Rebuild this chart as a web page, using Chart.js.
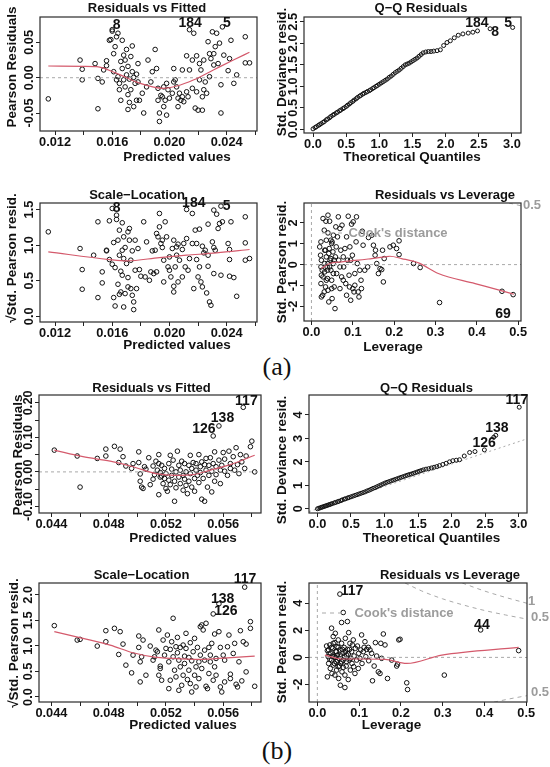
<!DOCTYPE html>
<html>
<head>
<meta charset="utf-8">
<title>Diagnostic plots</title>
<script src="https://cdn.jsdelivr.net/npm/chart.js@4.4.1/dist/chart.umd.min.js"></script>
<style>
  html, body { margin: 0; padding: 0; background: #fff; }
  #page { position: relative; width: 550px; height: 767px; overflow: hidden; background: #fff; }
  #page canvas { position: absolute; left: 0; top: 0; }
  .tag { position: absolute; font-family: "Liberation Serif", "DejaVu Serif", serif; font-size: 26px; color: #111;
         transform: translate(-50%, -50%); white-space: nowrap; }
</style>
</head>
<body>
<div id="page">
  <div class="tag" style="left:277px;top:367px">(a)</div>
  <div class="tag" style="left:277px;top:751px">(b)</div>
</div>
<script>
// ---------- tick values and labels ----------
const A_FIT_TICKS = [0.012, 0.014, 0.016, 0.018, 0.020, 0.022, 0.024, 0.026];
const A_FIT_LABELS = ["0.012", "", "0.016", "", "0.020", "", "0.024", ""];
const B_FIT_TICKS = [0.044, 0.046, 0.048, 0.050, 0.052, 0.054, 0.056, 0.058];
const B_FIT_LABELS = ["0.044", "", "0.048", "", "0.052", "", "0.056", ""];
const QQ_TICKS = [0, 0.5, 1, 1.5, 2, 2.5, 3];
const QQ_LABELS = ["0.0", "0.5", "1.0", "1.5", "2.0", "2.5", "3.0"];
const LEV_TICKS = [0, 0.1, 0.2, 0.3, 0.4, 0.5];
const LEV_LABELS = ["0.0", "0.1", "0.2", "0.3", "0.4", "0.5"];

const A_RES_TICKS = [-0.05, 0, 0.05];
const A_RES_LABELS = ["-0.05", "0.00", "0.05"];
const A_QQ_YTICKS = [0, 0.5, 1, 1.5, 2, 2.5];
const A_QQ_YLABELS = ["0.0", "0.5", "1.0", "1.5", "2.0", "2.5"];
const A_SL_YTICKS = [0, 0.5, 1, 1.5];
const A_SL_YLABELS = ["0.0", "0.5", "1.0", "1.5"];
const A_LEV_YTICKS = [-2, -1, 0, 1, 2];
const A_LEV_YLABELS = ["-2", "-1", "0", "1", "2"];

const B_RES_TICKS = [-0.10, -0.05, 0, 0.05, 0.10, 0.15, 0.20];
const B_RES_LABELS = ["-0.10", "", "0.00", "", "0.10", "", "0.20"];
const B_QQ_YTICKS = [0, 1, 2, 3, 4];
const B_QQ_YLABELS = ["0", "1", "2", "3", "4"];
const B_SL_YTICKS = [0, 0.5, 1, 1.5, 2];
const B_SL_YLABELS = ["0.0", "0.5", "1.0", "1.5", "2.0"];
const B_LEV_YTICKS = [-2, 0, 2, 4];
const B_LEV_YLABELS = ["-2", "0", "2", "4"];

// ---------- (a) series ----------
const A_RVF_PTS = [
  [0.01153,-0.030],[0.01375,0.025],[0.0139,0.012],[0.0139,-0.003],[0.0148,0.020],[0.0150,-0.001],[0.0150,-0.044],
  [0.0153,-0.006],[0.0154,0.011],[0.0156,0.017],[0.0156,0.024],[0.0158,0.053],[0.0159,0.054],[0.0160,0.066],
  [0.0160,0.068],[0.0161,0.034],[0.0161,0.0085],[0.0162,0.044],[0.0163,-0.003],[0.0163,0.058],[0.0164,0.063],
  [0.0164,0.0014],[0.0165,-0.008],[0.0165,-0.017],[0.0166,-0.032],[0.0166,0.023],[0.0167,0.013],[0.0167,0.053],
  [0.0168,0.032],[0.0168,-0.003],[0.0169,-0.013],[0.0169,0.025],[0.0170,0.040],[0.0170,0.004],[0.0171,-0.024],
  [0.0171,-0.045],[0.0171,0.016],[0.0172,-0.002],[0.0172,-0.035],[0.0173,0.030],[0.0173,-0.017],[0.0174,0.0085],
  [0.0174,0.045],[0.0175,-0.041],[0.0175,0.0005],[0.0176,-0.008],[0.0177,0.005],[0.0177,-0.032],[0.0178,0.020],
  [0.0178,-0.006],[0.0179,-0.032],[0.0181,-0.022],[0.0182,-0.050],[0.0184,-0.013],[0.0185,0.025],[0.0187,-0.006],
  [0.0188,0.0085],[0.0190,0.040],[0.0191,0.013],[0.0192,-0.015],[0.0192,-0.032],[0.0193,-0.050],[0.0193,-0.062],
  [0.0194,-0.025],[0.0195,-0.027],[0.0196,-0.013],[0.0196,-0.041],[0.0197,-0.032],[0.0198,-0.053],[0.0198,-0.008],
  [0.0199,-0.017],[0.0200,-0.029],[0.0202,-0.022],[0.0203,0.013],[0.0203,-0.006],[0.0204,-0.003],[0.0205,-0.013],
  [0.0206,-0.041],[0.0206,-0.029],[0.0207,-0.022],[0.0208,-0.032],[0.0209,0.011],[0.0209,-0.027],[0.0210,-0.034],
  [0.0212,0.031],[0.0212,-0.020],[0.0213,-0.027],[0.0214,0.068],[0.0214,0.011],[0.0216,-0.015],[0.0216,0.025],
  [0.0217,0.063],[0.0218,-0.043],[0.0219,0.031],[0.0219,-0.020],[0.0220,-0.046],[0.0221,0.020],[0.0221,-0.003],
  [0.0222,0.011],[0.0223,-0.046],[0.0223,-0.027],[0.0224,-0.017],[0.0224,0.025],[0.0225,-0.006],[0.0226,-0.022],
  [0.0227,0.051],[0.0228,0.034],[0.0228,0.0014],[0.0229,0.027],[0.0230,0.065],[0.0231,0.018],[0.0231,0.034],
  [0.0232,0.044],[0.0233,0.063],[0.0234,0.020],[0.0235,0.049],[0.0236,-0.050],[0.0236,-0.010],[0.0237,0.072],
  [0.0238,0.032],[0.0241,0.010],[0.0242,0.027],[0.0243,0.053],[0.0245,-0.008],[0.0247,0.004],[0.0253,0.058],
  [0.0253,0.021],[0.0256,0.021]
];
const A_RVF_FIT = [[0.01153,0.0166],[0.01398,0.0161],[0.01492,0.0156],[0.01631,0.0062],[0.01794,-0.0079],
  [0.01957,-0.0150],[0.02051,-0.0118],[0.02167,-0.0033],[0.02307,0.0109],[0.02447,0.0251],[0.02559,0.0360]];

const A_QQ_PTS = [
  [0.00,0.01],[0.03,0.04],[0.05,0.06],[0.08,0.09],[0.10,0.11],[0.12,0.13],[0.15,0.16],[0.17,0.18],[0.20,0.22],
  [0.22,0.24],[0.25,0.27],[0.27,0.30],[0.30,0.33],[0.32,0.35],[0.35,0.38],[0.37,0.40],[0.40,0.43],[0.42,0.45],
  [0.45,0.48],[0.47,0.50],[0.50,0.53],[0.52,0.56],[0.55,0.59],[0.57,0.62],[0.60,0.65],[0.62,0.68],[0.65,0.71],
  [0.67,0.74],[0.70,0.77],[0.72,0.79],[0.75,0.82],[0.77,0.84],[0.80,0.86],[0.82,0.88],[0.85,0.90],[0.87,0.92],
  [0.90,0.95],[0.92,0.97],[0.95,1.00],[0.97,1.02],[1.00,1.05],[1.03,1.08],[1.06,1.11],[1.09,1.14],[1.12,1.17],
  [1.15,1.21],[1.18,1.24],[1.21,1.28],[1.24,1.32],[1.27,1.35],[1.30,1.38],[1.33,1.42],[1.36,1.46],[1.39,1.50],
  [1.42,1.52],[1.45,1.54],[1.48,1.57],[1.51,1.60],[1.54,1.63],[1.57,1.66],[1.60,1.70],[1.63,1.74],[1.66,1.78],
  [1.70,1.80],[1.74,1.81],[1.78,1.81],[1.82,1.82],[1.87,1.83],[1.92,1.85],[1.97,1.95],[2.02,2.02],[2.07,2.06],
  [2.13,2.13],[2.19,2.19],[2.26,2.22],[2.34,2.24],[2.41,2.26],[2.48,2.29],[2.67,2.34],[3.01,2.37]
];

const A_SL_PTS = [
  [0.01153,1.186],[0.01375,0.952],[0.0139,0.656],[0.0139,0.380],[0.0147,0.858],[0.0150,1.327],[0.0150,0.263],
  [0.0153,0.624],[0.0153,0.469],[0.0156,0.928],[0.0156,0.919],[0.0158,0.797],[0.0158,1.341],[0.0160,1.514],
  [0.0160,0.731],[0.0161,1.036],[0.0161,0.263],[0.0162,0.684],[0.0162,0.145],[0.0163,1.420],[0.0163,1.360],
  [0.0164,1.069],[0.0164,0.450],[0.0165,0.858],[0.0165,1.210],[0.0165,0.309],[0.0166,0.342],[0.0166,0.633],
  [0.0167,0.928],[0.0167,1.313],[0.0167,0.577],[0.0168,0.131],[0.0168,1.116],[0.0168,0.811],[0.0169,0.319],
  [0.0169,0.966],[0.0170,0.741],[0.0171,0.413],[0.0171,1.186],[0.0171,0.544],[0.0172,1.069],[0.0172,1.233],
  [0.0173,0.788],[0.0173,0.389],[0.0174,0.919],[0.0174,0.295],[0.0175,0.202],[0.0175,0.094],[0.0176,0.647],
  [0.0176,1.069],[0.0177,0.389],[0.0178,0.952],[0.0179,0.656],[0.0180,0.563],[0.0182,1.327],[0.0183,0.553],
  [0.0184,1.045],[0.0186,0.506],[0.0187,0.624],[0.0188,0.919],[0.0189,0.600],[0.0190,0.928],[0.0191,1.163],
  [0.0191,0.624],[0.0192,1.116],[0.0193,1.444],[0.0193,1.256],[0.0194,1.022],[0.0195,0.966],[0.0195,1.069],
  [0.0196,0.483],[0.0196,0.788],[0.0197,1.327],[0.0198,1.116],[0.0199,0.694],[0.0200,0.647],[0.0200,0.834],
  [0.0201,0.553],[0.0202,0.952],[0.0203,0.422],[0.0203,0.342],[0.0203,1.069],[0.0204,0.694],[0.0205,0.858],
  [0.0205,0.975],[0.0206,0.483],[0.0206,1.013],[0.0207,0.788],[0.0209,0.553],[0.0209,0.938],[0.0210,1.022],
  [0.0211,0.694],[0.0212,1.092],[0.0212,1.500],[0.0213,0.647],[0.0214,0.811],[0.0216,1.444],[0.0216,1.022],
  [0.0217,0.389],[0.0218,1.210],[0.0219,0.797],[0.0219,1.022],[0.0220,0.553],[0.0221,0.694],[0.0221,1.224],
  [0.0222,0.483],[0.0223,0.413],[0.0223,0.984],[0.0224,0.891],[0.0225,0.928],[0.0226,0.328],[0.0227,0.703],
  [0.0227,0.858],[0.0227,1.294],[0.0228,0.202],[0.0229,0.155],[0.0230,1.045],[0.0231,1.491],[0.0231,0.600],
  [0.0231,0.966],[0.0232,0.928],[0.0233,1.434],[0.0234,1.233],[0.0235,1.303],[0.0236,0.577],[0.0236,1.547],
  [0.0237,1.327],[0.0241,1.022],[0.0242,0.797],[0.0242,0.938],[0.0243,1.327],[0.0242,0.563],[0.0245,0.544],
  [0.0247,0.281],[0.0253,1.397],[0.0253,1.031],[0.0253,0.788],[0.0256,0.811]
];
const A_SL_FIT = [[0.01153,0.905],[0.0158,0.797],[0.0170,0.778],[0.0193,0.825],[0.0212,0.858],[0.0233,0.891],[0.0256,0.938]];

const A_LEV_PTS = [
  [0.020,0.85],[0.023,1.09],[0.022,0.45],[0.024,0.21],[0.023,-0.11],[0.024,-0.51],[0.023,-0.91],[0.024,-1.55],
  [0.027,-1.47],[0.028,2.21],[0.031,1.65],[0.032,0.69],[0.032,-0.35],[0.034,-1.07],[0.035,2.08],[0.036,1.17],
  [0.036,0.37],[0.038,-0.11],[0.039,-0.67],[0.040,2.37],[0.040,1.52],[0.040,-1.23],[0.042,-1.79],[0.043,0.77],
  [0.044,2.08],[0.045,0.21],[0.047,-0.27],[0.047,1.17],[0.049,1.01],[0.049,-0.75],[0.050,-1.63],[0.052,0.61],
  [0.053,1.41],[0.053,0.05],[0.055,-1.07],[0.057,-2.11],[0.058,0.37],[0.060,0.85],[0.061,-0.43],[0.063,1.33],
  [0.065,2.29],[0.066,0.21],[0.069,1.73],[0.069,-1.15],[0.071,0.69],[0.073,-0.59],[0.074,1.89],[0.077,0.37],
  [0.078,-0.11],[0.081,0.77],[0.083,-0.91],[0.085,-1.47],[0.087,0.21],[0.089,2.32],[0.091,-0.51],[0.092,-1.07],
  [0.093,0.85],[0.095,-1.71],[0.097,1.94],[0.099,0.45],[0.100,-1.15],[0.101,2.05],[0.103,-1.31],[0.105,-0.43],
  [0.108,1.09],[0.109,2.29],[0.111,0.05],[0.113,-1.31],[0.115,-1.55],[0.117,-0.27],[0.120,-0.75],[0.121,-1.15],
  [0.123,1.60],[0.125,0.93],[0.129,-0.27],[0.136,-0.11],[0.138,1.30],[0.146,1.41],[0.150,0.93],[0.154,0.45],
  [0.155,0.69],[0.158,0.05],[0.162,-0.43],[0.166,-0.19],[0.170,-0.24],[0.172,0.69],[0.174,-0.83],[0.176,0.29],
  [0.190,0.85],[0.198,0.93],[0.206,0.77],[0.212,1.14],[0.212,0.48],[0.247,0.05],[0.263,-0.14],[0.310,-1.82],
  [0.461,-1.28],[0.488,-1.44],
  [0.028,-0.59],[0.032,0.05],[0.036,-0.75],[0.039,-0.27],[0.042,0.53],[0.044,-0.11],[0.047,0.29],[0.049,-1.15],
  [0.050,1.09],[0.053,-0.43],[0.055,0.21],[0.031,-1.31],[0.034,0.69],[0.026,-0.27],[0.040,0.05],[0.059,1.81],
  [0.069,-0.11],[0.077,-0.75],[0.085,1.33],[0.095,0.21],[0.105,-0.99]
];
const A_LEV_FIT = [[0.024,-0.19],[0.044,0.05],[0.073,0.13],[0.113,0.21],[0.146,0.29],[0.178,0.37],[0.190,0.40],
  [0.218,0.29],[0.259,0.08],[0.307,-0.43],[0.396,-0.91],[0.461,-1.26],[0.490,-1.42]];
const A_COOK_05 = [[0.478,2.954],[0.507,2.82]];

// ---------- (b) series ----------
const B_RVF_PTS = [
  [0.0442,0.063],[0.0458,0.046],[0.0460,-0.044],[0.0472,0.039],[0.0478,0.046],[0.0478,0.066],[0.0484,0.074],
  [0.0487,0.027],[0.0488,0.066],[0.0490,0.044],[0.0492,0.017],[0.0496,0.010],[0.0497,0.024],[0.0501,0.058],
  [0.0501,0.027],[0.0502,-0.006],[0.0502,-0.027],[0.0503,-0.044],[0.0504,-0.048],[0.0505,0.015],[0.0506,0.008],
  [0.0508,0.041],[0.0509,-0.037],[0.0511,-0.021],[0.0511,0.017],[0.0512,-0.008],[0.0513,0.031],[0.0514,0.005],
  [0.0515,0.050],[0.0515,-0.066],[0.0515,0.024],[0.0516,-0.015],[0.0516,-0.002],[0.0517,0.019],[0.0517,-0.012],
  [0.0518,-0.034],[0.0519,0.010],[0.0519,-0.019],[0.0520,-0.048],[0.0520,-0.005],[0.0521,-0.056],[0.0522,0.024],
  [0.0522,-0.024],[0.0523,0.048],[0.0523,-0.037],[0.0524,0.008],[0.0524,-0.010],[0.0525,0.034],[0.0526,-0.085],
  [0.0526,-0.027],[0.0527,0.000],[0.0527,-0.046],[0.0528,0.060],[0.0529,0.019],[0.0529,-0.015],[0.0530,-0.034],
  [0.0530,0.005],[0.0531,0.031],[0.0532,-0.053],[0.0532,-0.010],[0.0533,-0.021],[0.0533,0.024],[0.0534,-0.039],
  [0.0534,0.000],[0.0535,-0.063],[0.0536,0.019],[0.0536,-0.027],[0.0537,0.048],[0.0537,-0.005],[0.0538,0.010],
  [0.0538,-0.044],[0.0539,0.027],[0.0540,-0.019],[0.0540,-0.056],[0.0541,0.005],[0.0541,0.024],[0.0542,-0.010],
  [0.0543,0.050],[0.0543,-0.031],[0.0544,0.015],[0.0544,-0.002],[0.0545,0.029],[0.0545,-0.079],[0.0546,-0.019],
  [0.0547,0.021],[0.0547,-0.085],[0.0548,0.005],[0.0548,0.039],[0.0549,-0.044],[0.0550,0.019],[0.0550,-0.010],
  [0.0551,0.041],[0.0552,0.002],[0.0552,-0.058],[0.0553,0.024],[0.0553,0.104],[0.0554,-0.027],[0.0554,0.058],
  [0.0555,0.015],[0.0555,-0.008],[0.0557,0.034],[0.0557,0.133],[0.0558,0.005],[0.0558,-0.034],[0.0559,0.019],
  [0.0560,0.056],[0.0561,0.002],[0.0561,0.037],[0.0563,-0.010],[0.0564,0.060],[0.0565,0.024],[0.0565,0.010],
  [0.0567,0.044],[0.0568,0.005],[0.0569,0.070],[0.0570,0.021],[0.0571,-0.005],[0.0572,0.050],[0.0573,0.029],
  [0.0574,0.187],[0.0575,0.010],[0.0576,0.046],[0.0579,0.073],[0.0580,0.089],[0.0582,0.000]
];
const B_RVF_FIT = [[0.0442,0.063],[0.0462,0.044],[0.0481,0.031],[0.0497,0.015],[0.0513,-0.005],[0.0527,-0.010],
  [0.0539,-0.008],[0.0551,0.005],[0.0565,0.021],[0.0582,0.048]];

const B_QQ_PTS = [
  [0.00,0.00],[0.02,0.02],[0.04,0.04],[0.06,0.06],[0.08,0.08],[0.10,0.10],[0.12,0.12],[0.14,0.14],[0.16,0.16],
  [0.18,0.18],[0.20,0.20],[0.22,0.22],[0.25,0.25],[0.27,0.27],[0.30,0.30],[0.32,0.32],[0.35,0.35],[0.37,0.38],
  [0.40,0.41],[0.42,0.43],[0.45,0.46],[0.47,0.48],[0.50,0.51],[0.53,0.54],[0.56,0.57],[0.59,0.60],[0.62,0.63],
  [0.65,0.66],[0.68,0.69],[0.71,0.72],[0.74,0.76],[0.77,0.79],[0.80,0.83],[0.83,0.87],[0.86,0.90],[0.89,0.94],
  [0.92,0.98],[0.95,1.02],[0.98,1.06],[1.01,1.10],[1.04,1.13],[1.07,1.16],[1.10,1.19],[1.13,1.22],[1.16,1.25],
  [1.19,1.28],[1.22,1.31],[1.25,1.34],[1.28,1.37],[1.31,1.40],[1.34,1.43],[1.37,1.46],[1.40,1.48],[1.43,1.51],
  [1.46,1.54],[1.49,1.57],[1.52,1.60],[1.55,1.63],[1.58,1.66],[1.62,1.69],[1.66,1.71],[1.70,1.74],[1.74,1.77],
  [1.78,1.80],[1.82,1.84],[1.87,1.89],[1.92,1.94],[1.97,2.00],[2.02,2.05],[2.07,2.07],[2.12,2.09],[2.19,2.25],
  [2.27,2.40],[2.35,2.44],[2.49,2.51],[2.63,3.05],[2.66,3.13],[3.01,4.33]
];
const B_QQ_LINE = [[-0.126,-0.12],[3.126,2.98]];

const B_SL_PTS = [
  [0.0442,1.396],[0.0458,1.114],[0.0460,1.127],[0.0472,0.996],[0.0478,1.081],[0.0478,1.297],[0.0484,1.343],
  [0.0487,0.832],[0.0488,1.278],[0.0490,1.035],[0.0492,0.623],[0.0496,0.472],[0.0497,0.819],[0.0501,1.193],
  [0.0501,0.970],[0.0502,0.295],[0.0502,0.688],[0.0503,0.786],[0.0504,1.114],[0.0506,0.426],[0.0509,0.996],
  [0.0511,0.721],[0.0512,0.786],[0.0513,0.917],[0.0514,0.885],[0.0515,1.311],[0.0515,0.426],[0.0516,0.603],
  [0.0516,0.557],[0.0517,0.328],[0.0518,1.114],[0.0519,0.819],[0.0520,0.950],[0.0521,1.212],[0.0522,0.164],
  [0.0522,0.688],[0.0523,0.931],[0.0523,0.328],[0.0524,1.081],[0.0525,0.786],[0.0525,1.540],[0.0526,0.524],
  [0.0527,0.983],[0.0527,0.393],[0.0528,0.865],[0.0528,1.166],[0.0529,0.721],[0.0529,0.131],[0.0530,0.970],
  [0.0530,0.590],[0.0531,0.229],[0.0532,1.016],[0.0532,0.426],[0.0533,0.799],[0.0533,0.655],[0.0534,0.950],
  [0.0534,1.245],[0.0535,0.341],[0.0536,0.773],[0.0536,0.524],[0.0537,1.062],[0.0537,0.262],[0.0538,0.708],
  [0.0538,0.098],[0.0539,0.885],[0.0540,0.426],[0.0540,1.147],[0.0541,0.590],[0.0541,0.197],[0.0542,0.970],
  [0.0543,0.688],[0.0543,0.360],[0.0544,0.819],[0.0544,1.376],[0.0545,1.409],[0.0545,0.557],[0.0546,1.311],
  [0.0547,0.917],[0.0547,0.721],[0.0548,1.442],[0.0548,0.210],[0.0549,0.164],[0.0550,0.970],[0.0550,0.459],
  [0.0551,0.819],[0.0551,0.688],[0.0552,1.049],[0.0553,0.328],[0.0553,1.625],[0.0554,1.232],[0.0554,0.590],
  [0.0555,0.754],[0.0555,0.426],[0.0557,1.278],[0.0557,1.822],[0.0558,0.970],[0.0558,0.197],[0.0559,0.098],
  [0.0560,0.819],[0.0561,0.295],[0.0561,0.721],[0.0563,0.983],[0.0564,1.212],[0.0565,0.446],[0.0565,0.360],
  [0.0567,0.852],[0.0568,1.049],[0.0569,0.249],[0.0570,0.197],[0.0571,0.688],[0.0572,1.297],[0.0573,0.315],
  [0.0574,1.081],[0.0575,2.149],[0.0576,1.035],[0.0576,0.491],[0.0579,1.474],[0.0579,1.343],[0.0582,0.210]
];
const B_SL_FIT = [[0.0442,1.278],[0.0462,1.147],[0.0481,1.016],[0.0497,0.865],[0.0511,0.786],[0.0525,0.754],
  [0.0544,0.734],[0.0563,0.767],[0.0582,0.800]];

const B_LEV_PTS = [
  [0.022,0.84],[0.024,-1.44],[0.026,0.05],[0.027,0.55],[0.027,-0.45],[0.030,0.92],[0.031,-0.82],[0.032,0.30],
  [0.034,2.16],[0.034,-0.20],[0.035,-1.19],[0.037,0.67],[0.038,1.54],[0.038,-0.57],[0.040,0.05],[0.042,1.09],
  [0.042,-1.31],[0.043,1.78],[0.044,0.42],[0.045,-0.32],[0.046,-0.94],[0.047,0.79],[0.048,0.17],[0.050,1.29],
  [0.050,-0.69],[0.051,-1.56],[0.052,-0.07],[0.054,0.55],[0.054,4.68],[0.055,-2.06],[0.056,-0.45],[0.058,2.58],
  [0.058,1.04],[0.059,-1.07],[0.061,0.30],[0.062,3.32],[0.062,-0.20],[0.064,0.74],[0.066,-1.31],[0.066,-2.23],
  [0.067,1.41],[0.069,-0.64],[0.070,0.17],[0.072,2.65],[0.072,0.59],[0.074,-1.64],[0.075,1.83],[0.076,-0.20],
  [0.078,1.04],[0.079,-0.94],[0.082,0.42],[0.083,-0.45],[0.086,1.29],[0.088,0.10],[0.090,-1.19],[0.091,0.67],
  [0.094,-0.20],[0.096,0.84],[0.098,-0.82],[0.099,0.30],[0.102,-0.07],[0.104,0.55],[0.106,1.66],[0.107,-0.45],
  [0.110,0.42],[0.112,0.74],[0.114,1.16],[0.116,0.05],[0.118,0.59],[0.122,0.74],[0.123,-0.25],[0.126,0.55],
  [0.130,0.30],[0.132,-1.73],[0.136,-0.64],[0.139,1.09],[0.142,0.10],[0.146,-1.07],[0.150,-1.19],[0.152,1.04],
  [0.154,-0.07],[0.158,1.73],[0.162,0.92],[0.168,-1.56],[0.178,-0.20],[0.190,-0.64],[0.192,-0.50],[0.195,1.29],
  [0.198,1.34],[0.214,-1.88],[0.216,-2.38],[0.304,-1.31],[0.391,2.03],[0.482,0.50],
  [0.024,0.50],[0.028,0.25],[0.030,-0.15],[0.034,0.74],[0.036,0.10],[0.038,1.04],[0.041,-0.45],[0.043,0.00],
  [0.046,0.42],[0.048,-0.20],[0.050,0.74],[0.053,-0.64],[0.055,0.17],[0.058,-0.32],[0.060,0.59],[0.062,-0.74],
  [0.065,0.05],[0.067,0.42],[0.070,-0.32],[0.074,0.25],[0.077,0.59],[0.080,-0.07],[0.084,0.92],[0.087,-0.69]
];
const B_LEV_FIT = [[0.018,0.17],[0.058,-0.12],[0.106,-0.12],[0.162,-0.15],[0.214,-0.45],[0.298,0.17],[0.482,0.74]];
const B_COOK_05_UP = [[0.21,5.50],[0.25,4.91],[0.30,4.33],[0.35,3.87],[0.40,3.47],[0.45,3.14],[0.502,2.83]];
const B_COOK_1 = [[0.347,5.50],[0.40,4.91],[0.45,4.44],[0.502,4.00]];
const B_COOK_05_LOW = [[0.423,-3.31],[0.46,-3.07],[0.502,-2.83]];

// ---------- look ----------
const FONT = '"Liberation Sans", Arial, Helvetica, sans-serif';
const RED = "#d45a6c";
const GRAY = "#a9a9a9";
const INK = "#111111";
const Y_W = 30;   // fixed y-axis box width
const X_H = 22;   // fixed x-axis box height

Chart.defaults.font.family = FONT;
Chart.defaults.animation = false;

// panel layout (page pixels) and text
const PANELS = [
  { box: [40, 17, 257, 131], xr: [0.01095, 0.02612], yr: [-0.0755, 0.0860],
    xt: A_FIT_TICKS, xl: A_FIT_LABELS, yt: A_RES_TICKS, yl: A_RES_LABELS,
    title: ["Residuals vs Fitted", 147, 8], xTitle: ["Predicted values", 177, 157], yTitle: ["Pearson Residuals", 12, 67],
    marks: [["8", 0.01631, 0.0746], ["184", 0.02144, 0.0770], ["5", 0.02401, 0.0779]],
    series: [{ dots: A_RVF_PTS }, { h: 0 }, { line: A_RVF_FIT }] },
  { box: [304, 17, 521, 133], xr: [-0.136, 3.136], yr: [-0.086, 2.614],
    xt: QQ_TICKS, xl: QQ_LABELS, yt: A_QQ_YTICKS, yl: A_QQ_YLABELS,
    title: ["Q\u2212Q Residuals", 421, 8], xTitle: ["Theoretical Quantiles", 412, 157], yTitle: ["Std. Deviance resid.", 282.5, 72],
    marks: [["184", 2.472, 2.467], ["8", 2.748, 2.266], ["5", 2.941, 2.467]],
    series: [{ dots: A_QQ_PTS, r: 2 }] },
  { box: [40, 203, 257, 322], xr: [0.01095, 0.02612], yr: [-0.080, 1.591],
    xt: A_FIT_TICKS, xl: A_FIT_LABELS, yt: A_SL_YTICKS, yl: A_SL_YLABELS,
    title: ["Scale\u2212Location", 137, 195], xTitle: ["Predicted values", 177, 345], yTitle: ["\u221AStd. Pearson resid.", 12.5, 258],
    marks: [["8", 0.0163, 1.513], ["184", 0.0217, 1.592], ["5", 0.0240, 1.545]],
    series: [{ dots: A_SL_PTS }, { line: A_SL_FIT }] },
  { box: [304, 203, 521, 321], xr: [-0.018, 0.507], yr: [-2.705, 2.954],
    xt: LEV_TICKS, xl: LEV_LABELS, yt: A_LEV_YTICKS, yl: A_LEV_YLABELS,
    title: ["Residuals vs Leverage", 445, 195], xTitle: ["Leverage", 393, 347], yTitle: ["Std. Pearson resid.", 282.5, 262],
    marks: [["69", 0.4636, -2.40]],
    notes: [["0.5", 532, 205]], legend: [322, 343, 233, 398],
    series: [{ dots: A_LEV_PTS }, { h: 0 }, { v: 0 }, { cook: A_COOK_05 }, { line: A_LEV_FIT }] },
  { box: [39, 395, 261, 513], xr: [0.04313, 0.05864], yr: [-0.119, 0.2226],
    xt: B_FIT_TICKS, xl: B_FIT_LABELS, yt: B_RES_TICKS, yl: B_RES_LABELS,
    title: ["Residuals vs Fitted", 151.5, 388], xTitle: ["Predicted values", 183, 538], yTitle: ["Pearson Residuals", 18, 455],
    marks: [["117", 0.05762, 0.2052], ["138", 0.05595, 0.1550], ["126", 0.05465, 0.1231]],
    series: [{ dots: B_RVF_PTS }, { h: 0 }, { line: B_RVF_FIT }] },
  { box: [309, 395, 527, 513], xr: [-0.126, 3.126], yr: [-0.18, 4.85],
    xt: QQ_TICKS, xl: QQ_LABELS, yt: B_QQ_YTICKS, yl: B_QQ_YLABELS,
    title: ["Q\u2212Q Residuals", 426.5, 388], xTitle: ["Theoretical Quantiles", 431.5, 538], yTitle: ["Std. Deviance resid.", 282.5, 460],
    marks: [["117", 2.975, 4.64], ["138", 2.676, 3.43], ["126", 2.486, 2.80]],
    series: [{ dots: B_QQ_PTS, r: 2 }, { ref: B_QQ_LINE }] },
  { box: [39, 583, 261, 702], xr: [0.04313, 0.05864], yr: [-0.098, 2.23],
    xt: B_FIT_TICKS, xl: B_FIT_LABELS, yt: B_SL_YTICKS, yl: B_SL_YLABELS,
    title: ["Scale\u2212Location", 141.5, 575], xTitle: ["Predicted values", 183, 725], yTitle: ["\u221AStd. Pearson resid.", 14, 643],
    marks: [["117", 0.05752, 2.311], ["138", 0.05596, 1.917], ["126", 0.05619, 1.673]],
    series: [{ dots: B_SL_PTS }, { line: B_SL_FIT }] },
  { box: [309, 583, 527, 702], xr: [-0.020, 0.502], yr: [-3.30, 5.50],
    xt: LEV_TICKS, xl: LEV_LABELS, yt: B_LEV_YTICKS, yl: B_LEV_YLABELS,
    title: ["Residuals vs Leverage", 450, 575], xTitle: ["Leverage", 391.5, 725], yTitle: ["Std. Pearson resid.", 282.5, 642],
    marks: [["117", 0.0831, 4.88], ["44", 0.394, 2.35]],
    notes: [["1", 531.5, 601.5], ["0.5", 540, 617.5], ["0.5", 540, 692.5]], legend: [322, 343, 613, 404],
    series: [{ dots: B_LEV_PTS }, { h: 0 }, { v: 0 }, { cook: B_COOK_05_UP }, { cook: B_COOK_1 }, { cook: B_COOK_05_LOW }, { line: B_LEV_FIT }] }
];

function pts(list) {
  return list.map(function (p) { return { x: p[0], y: p[1] }; });
}

// turn a panel's series list into Chart.js datasets
function buildSets(p) {
  var sets = [];
  p.series.forEach(function (s) {
    if (s.dots) {
      sets.push({ data: pts(s.dots), showLine: false, pointRadius: s.r || 2.3, pointHoverRadius: s.r || 2.3,
        pointBorderWidth: 1, borderColor: INK, backgroundColor: "rgba(0,0,0,0)", clip: false, order: 3 });
    } else if (s.line) {
      sets.push({ data: pts(s.line), showLine: true, pointRadius: 0, borderColor: RED, borderWidth: 1.2,
        cubicInterpolationMode: "monotone", fill: false, order: 0 });
    } else if (s.h !== undefined) {
      sets.push({ data: [{ x: p.xr[0], y: s.h }, { x: p.xr[1], y: s.h }], showLine: true, pointRadius: 0,
        borderColor: GRAY, borderWidth: 1, borderDash: [3, 3], order: 1 });
    } else if (s.v !== undefined) {
      sets.push({ data: [{ x: s.v, y: p.yr[0] }, { x: s.v, y: p.yr[1] }], showLine: true, pointRadius: 0,
        borderColor: GRAY, borderWidth: 1, borderDash: [3, 3], order: 1 });
    } else if (s.cook) {
      sets.push({ data: pts(s.cook), showLine: true, pointRadius: 0, borderColor: GRAY, borderWidth: 1,
        borderDash: [4, 4], cubicInterpolationMode: "monotone", order: 1 });
    } else if (s.ref) {
      sets.push({ data: pts(s.ref), showLine: true, pointRadius: 0, borderColor: GRAY, borderWidth: 1,
        borderDash: [2, 3], order: 4 });
    }
  });
  return sets;
}

function drawText(ctx, t, x, y, rot) {
  ctx.save();
  ctx.translate(x, y);
  if (rot) ctx.rotate(-Math.PI / 2);
  ctx.fillText(t, 0, 0);
  ctx.restore();
}

// box, rotated y tick labels, titles and point labels
function panelText(p, k) {
  return {
    id: "paneltext" + k,
    afterDraw: function (chart) {
      var ctx = chart.ctx, a = chart.chartArea;
      var xs = chart.scales.x, ys = chart.scales.y;
      ctx.save();
      ctx.setLineDash([]);
      ctx.strokeStyle = "#2b2b2b";
      ctx.lineWidth = 1.2;
      ctx.strokeRect(a.left, a.top, a.right - a.left, a.bottom - a.top);

      ctx.textAlign = "center";
      ctx.textBaseline = "middle";
      ctx.fillStyle = INK;
      ctx.font = "bold 12.8px " + FONT;
      p.yt.forEach(function (v, i) {
        if (p.yl[i]) drawText(ctx, p.yl[i], a.left - 10.5, ys.getPixelForValue(v), true);
      });
      ctx.font = "bold 13px " + FONT;
      drawText(ctx, p.title[0], p.title[1], p.title[2]);
      ctx.font = "bold 13.5px " + FONT;
      drawText(ctx, p.xTitle[0], p.xTitle[1], p.xTitle[2]);
      drawText(ctx, p.yTitle[0], p.yTitle[1], p.yTitle[2], true);

      ctx.font = "bold 14px " + FONT;
      (p.marks || []).forEach(function (m) {
        drawText(ctx, m[0], xs.getPixelForValue(m[1]), ys.getPixelForValue(m[2]));
      });

      ctx.fillStyle = "#9c9c9c";
      ctx.font = "bold 13px " + FONT;
      (p.notes || []).forEach(function (n) { drawText(ctx, n[0], n[1], n[2]); });
      if (p.legend) {
        var L = p.legend;
        ctx.strokeStyle = GRAY;
        ctx.lineWidth = 1;
        ctx.setLineDash([4, 4]);
        ctx.beginPath();
        ctx.moveTo(L[0], L[2]);
        ctx.lineTo(L[1], L[2]);
        ctx.stroke();
        drawText(ctx, "Cook's distance", L[3], L[2]);
      }
      ctx.restore();
    }
  };
}

function makePanel(p, k) {
  var cv = document.createElement("canvas");
  cv.width = 550;
  cv.height = 767;
  document.getElementById("page").appendChild(cv);
  var L = p.box[0], T = p.box[1], R = p.box[2], B = p.box[3];
  var tickGrid = { display: true, drawOnChartArea: false, drawTicks: true, tickLength: 4, color: "#222", lineWidth: 1 };

  new Chart(cv, {
    type: "scatter",
    data: { datasets: buildSets(p) },
    options: {
      responsive: false,
      animation: false,
      events: [],
      layout: { padding: { left: L - Y_W, top: T, right: 550 - R, bottom: 767 - B - X_H } },
      plugins: { legend: { display: false }, tooltip: { enabled: false }, title: { display: false } },
      scales: {
        x: {
          type: "linear", position: "bottom", min: p.xr[0], max: p.xr[1], bounds: "data",
          afterBuildTicks: function (s) { s.ticks = p.xt.map(function (v) { return { value: v }; }); },
          afterFit: function (s) { s.height = X_H; },
          ticks: {
            autoSkip: false, maxRotation: 0, minRotation: 0, padding: 0, color: INK,
            font: { size: 12.8, weight: "bold" },
            callback: function (v, i) { return p.xl[i]; }
          },
          grid: tickGrid,
          border: { display: false }
        },
        y: {
          type: "linear", position: "left", min: p.yr[0], max: p.yr[1], bounds: "data",
          afterBuildTicks: function (s) { s.ticks = p.yt.map(function (v) { return { value: v }; }); },
          afterFit: function (s) { s.width = Y_W; },
          ticks: { display: false },
          grid: tickGrid,
          border: { display: false }
        }
      }
    },
    plugins: [panelText(p, k)]
  });
}

PANELS.forEach(makePanel);
</script>
</body>
</html>
